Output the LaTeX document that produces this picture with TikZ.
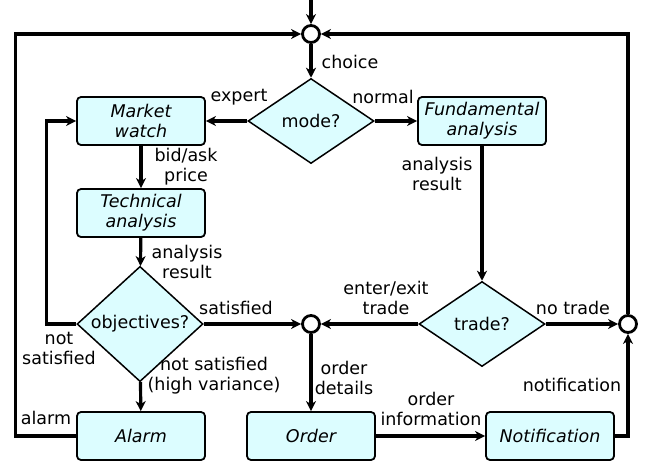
\documentclass[tikz,border=0pt]{standalone}
\usepackage{fontspec}
\setmainfont{DejaVu Sans}
\usepackage{tikz}
\usetikzlibrary{shapes.geometric,arrows.meta}
\definecolor{boxfill}{RGB}{220,253,255}
\tikzstyle{every node} = [font={\fontsize{17.5}{20}\selectfont}]
\tikzstyle{proc} = [draw=black, line width=1.8pt, fill=boxfill, rounded corners=4pt, minimum width=128pt, minimum height=48pt, inner sep=0pt, align=center, font={\fontsize{17.5}{20}\selectfont\itshape}]
\tikzstyle{ask} = [draw=black, line width=1.5pt, fill=boxfill, diamond, minimum width=126pt, minimum height=85pt, inner sep=0pt]
\tikzstyle{junc} = [draw=black, line width=2.8pt, fill=white, circle, minimum size=17pt, inner sep=0pt]
\tikzstyle{flow} = [line width=3.2pt, -{Stealth[length=10pt,width=10pt,inset=3pt]}]
\tikzstyle{lbl} = [align=center, inner sep=0pt]

\begin{document}
\begin{tikzpicture}[x=1pt,y=1pt]
    \useasboundingbox (0,0) rectangle (649,-461);
    \coordinate (start) at (311,0);
    \node[junc](j1) at (311,-34){};
    \node[ask](mode) at (311,-121){mode?};
    \node[proc](mw) at (141,-121){Market\\watch};
    \node[proc](fa) at (482,-121){Fundamental\\analysis};
    \node[proc](ta) at (141,-213){Technical\\analysis};
    \node[ask](obj) at (140,-324){objectives?};
    \node[junc](j2) at (311,-324){};
    \node[ask](trade) at (482,-324){trade?};
    \node[junc](j3) at (628,-324){};
    \node[proc](alarm) at (141,-436){Alarm};
    \node[proc](order) at (311,-436){Order};
    \node[proc](notif) at (550,-436){Notification};
    % labels
    \node[lbl](l1) at (350,-62){choice};
    \node[lbl](l2) at (239,-97){expert};
    \node[lbl](l3) at (383,-97){normal};
    \node[lbl](l4) at (186,-167){bid/ask\\price};
    \node[lbl](l5) at (187,-262){analysis\\result};
    \node[lbl](l6) at (437,-174){analysis\\result};
    \node[lbl](l7) at (236,-308){satisfied};
    \node[lbl](l8) at (59,-348){not\\satisfied};
    \node[lbl](l9) at (214,-376){not satisfied\\(high variance)};
    \node[lbl](l10) at (46,-418){alarm};
    \node[lbl](l11) at (386,-298){enter/exit\\trade};
    \node[lbl](l12) at (573,-308){no trade};
    \node[lbl](l13) at (344,-378){order\\details};
    \node[lbl](l14) at (431,-409){order\\information};
    \node[lbl](l15) at (572,-385){notification};
    % connectors
    \draw[flow](start)--(j1);
    \draw[flow](j1)--(mode);
    \draw[flow](mode.west)--(mw.east);
    \draw[flow](mode.east)--(fa.west);
    \draw[flow](mw)--(ta);
    \draw[flow](ta)--(obj);
    \draw[flow](fa)--(trade);
    \draw[flow](obj.east)--(j2);
    \draw[flow](trade.west)--(j2);
    \draw[flow](trade.east)--(j3);
    \draw[flow](obj.west)--++(-30,0)|-(mw.west);
    \draw[flow](obj)--(alarm);
    \draw[flow](alarm.west)--++(-61,0)|-(j1.west);
    \draw[flow](j2)--(order);
    \draw[flow](order)--(notif);
    \draw[flow](notif.east)-|(j3.south);
    \draw[flow](j3.north)|-(j1.east);
\end{tikzpicture}
\end{document}
